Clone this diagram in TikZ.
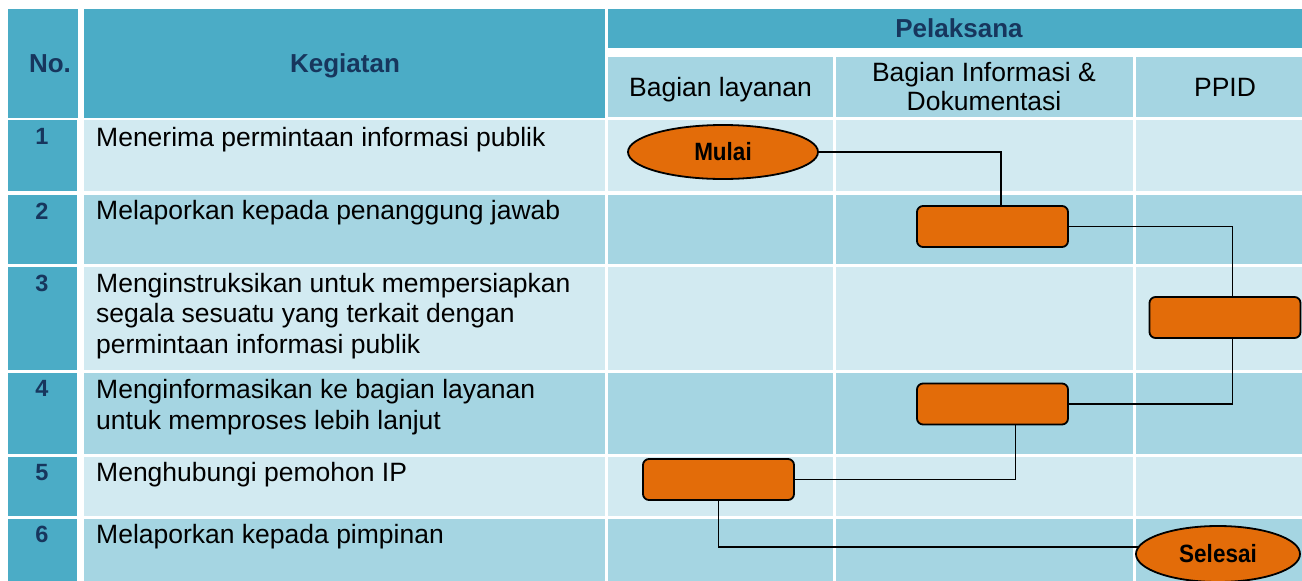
\documentclass[tikz,border=0pt]{standalone}
\usepackage{fontspec}
\setmainfont{Liberation Sans}
\newfontfamily\termfont[FakeStretch=0.9]{Liberation Sans}
\usetikzlibrary{shapes.geometric,calc}
\definecolor{hdrcol}{HTML}{4BACC6}
\definecolor{bandA}{HTML}{A5D5E2}
\definecolor{bandB}{HTML}{D2EAF1}
\definecolor{navytxt}{HTML}{17365D}
\definecolor{orng}{HTML}{E36C09}
\newcommand{\mystrut}{\rule{0pt}{20pt}}
\newcommand{\numstrut}{\rule{0pt}{18pt}}
\begin{document}
\begin{tikzpicture}[x=1pt,y=-1pt,
  celltxt/.style={inner sep=0pt, anchor=north west, align=left, text=black,
    font=\fontsize{26.5}{30.5}\selectfont},
  subhdr/.style={inner sep=0pt, anchor=north, align=center, text=black,
    font=\fontsize{26.5}{28.3}\selectfont},
  hdrtxt/.style={inner sep=0pt, anchor=north, text=navytxt,
    font=\bfseries\fontsize{26}{30}\selectfont},
  numtxt/.style={inner sep=0pt, anchor=north, text=navytxt,
    font=\bfseries\fontsize{23.5}{28}\selectfont},
  terminal/.style={ellipse, draw=black, line width=1.8pt, fill=orng, inner sep=0pt,
    font=\termfont\bfseries\fontsize{25}{29}\selectfont, text=black},
  procbox/.style={rectangle, rounded corners=6pt, draw=black, line width=1.8pt,
    fill=orng, inner sep=0pt, minimum width=151pt, minimum height=41pt},
  conn/.style={draw=black, line width=1.5pt}
]
\useasboundingbox (0,0) rectangle (1302,581);
\fill[white] (0,0) rectangle (1302,581);

% header cells
\fill[hdrcol] (8,9) rectangle (78,118);
\fill[hdrcol] (84,9) rectangle (605,118);
\fill[hdrcol] (608,9) rectangle (1302,48);
\fill[bandA] (608,57) rectangle (833,117);
\fill[bandA] (836,57) rectangle (1133,117);
\fill[bandA] (1136,57) rectangle (1302,117);

% body rows
\foreach \t/\b/\c in {120/191/bandB, 195/264/bandA, 267/370/bandB, 373/454/bandA, 457/516/bandB, 519/581/bandA}{
  \fill[hdrcol] (8,\t) rectangle (77,\b);
  \fill[\c] (84,\t) rectangle (605,\b);
  \fill[\c] (608,\t) rectangle (833,\b);
  \fill[\c] (836,\t) rectangle (1133,\b);
  \fill[\c] (1136,\t) rectangle (1302,\b);
}

% header texts
\node[hdrtxt] (hno) at (50,52.7) {\mystrut No.};
\node[hdrtxt] (hkeg) at (345,52.7) {\mystrut Kegiatan};
\node[hdrtxt] (hpel) at (959,17.5) {\mystrut Pelaksana};
\node[subhdr] (hbl) at (720.5,76.7) {\mystrut Bagian layanan};
\node[subhdr] (hbi) at (984,61.7) {\mystrut Bagian Informasi \&\\Dokumentasi};
\node[subhdr] (hppid) at (1225,76.7) {\mystrut PPID};

% numbers
\node[numtxt] (n1) at (42,126.7) {\numstrut 1};
\node[numtxt] (n2) at (42,201.7) {\numstrut 2};
\node[numtxt] (n3) at (42,273.3) {\numstrut 3};
\node[numtxt] (n4) at (42,378.7) {\numstrut 4};
\node[numtxt] (n5) at (42,462) {\numstrut 5};
\node[numtxt] (n6) at (42,524.7) {\numstrut 6};

% activity texts
\node[celltxt] (k1) at (96,126.3) {\mystrut Menerima permintaan informasi publik};
\node[celltxt] (k2) at (96,199.7) {\mystrut Melaporkan kepada penanggung jawab};
\node[celltxt] (k3) at (96,272) {\mystrut Menginstruksikan untuk mempersiapkan\\segala sesuatu yang terkait dengan\\permintaan informasi publik};
\node[celltxt] (k4) at (96,378.3) {\mystrut Menginformasikan ke bagian layanan\\untuk memproses lebih lanjut};
\node[celltxt] (k5) at (96,461.7) {\mystrut Menghubungi pemohon IP};
\node[celltxt] (k6) at (96,523.3) {\mystrut Melaporkan kepada pimpinan};

% flow shapes
\node[terminal, minimum width=190pt, minimum height=54pt] (mulai) at (723,152) {Mulai};
\node[procbox] (b2) at (992.5,226.5) {};
\node[procbox] (b3) at (1225,317.5) {};
\node[procbox] (b4) at (992.5,404) {};
\node[procbox] (b5) at (718.5,479.5) {};
\node[terminal, minimum width=164pt, minimum height=56pt] (selesai) at (1218,554) {Selesai};

% connectors
\draw[conn] (mulai.east) -| ([xshift=8.5pt]b2.north);
\draw[conn] (b2.east) -| ([xshift=7.5pt]b3.north);
\draw[conn] ([xshift=7.5pt]b3.south) |- (b4.east);
\draw[conn] ([xshift=23pt]b4.south) |- (b5.east);
\draw[conn] (b5.south) |- (selesai.175);
\end{tikzpicture}
\end{document}
